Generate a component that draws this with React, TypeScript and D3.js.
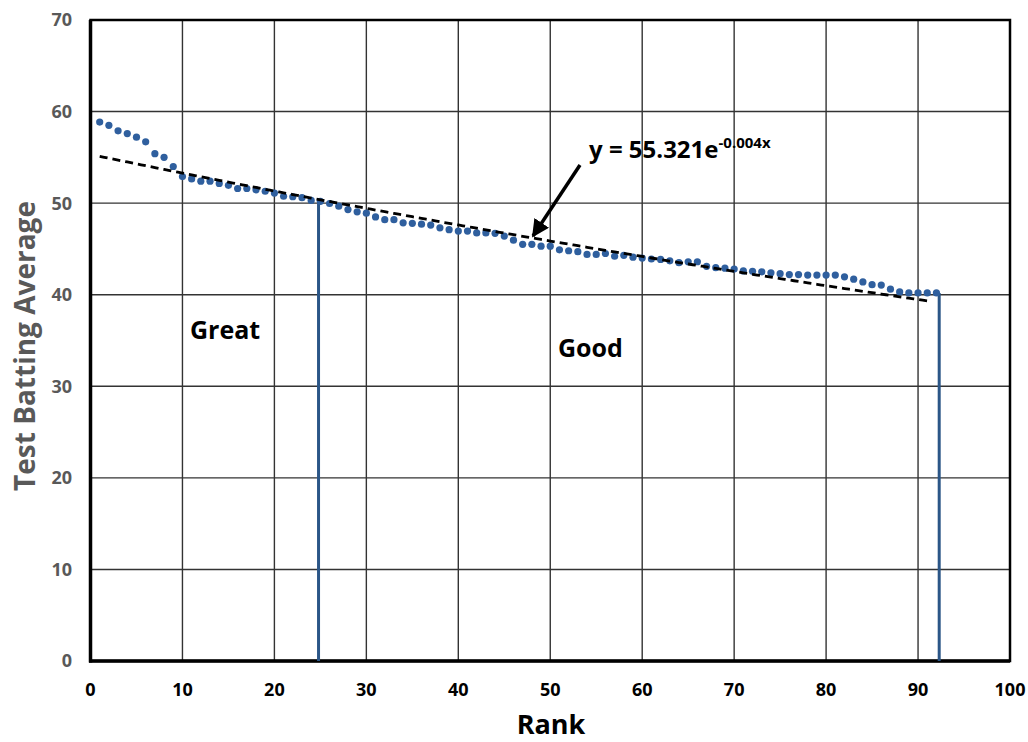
import React from "react";
import * as d3 from "d3";

// batting averages by rank (1..92)
const ranks = d3.range(1, 93);
const averages = [
  58.85, 58.5, 57.9, 57.6, 57.2, 56.7, 55.4, 55.0, 54.0, 52.9,
  52.65, 52.4, 52.4, 52.15, 51.95, 51.6, 51.6, 51.45, 51.3, 51.1,
  50.75, 50.7, 50.6, 50.3, 50.2, 49.96, 49.67, 49.3, 49.05, 48.9,
  48.5, 48.2, 48.2, 47.85, 47.8, 47.7, 47.6, 47.3, 47.1, 46.95,
  46.95, 46.75, 46.75, 46.7, 46.4, 45.96, 45.5, 45.5, 45.3, 45.3,
  44.9, 44.8, 44.7, 44.4, 44.4, 44.5, 44.2, 44.3, 44.1, 44.0,
  43.9, 43.85, 43.7, 43.5, 43.6, 43.6, 43.1, 42.95, 42.9, 42.8,
  42.6, 42.55, 42.5, 42.4, 42.3, 42.2, 42.2, 42.15, 42.15, 42.15,
  42.15, 41.95, 41.7, 41.4, 41.1, 41.05, 40.6, 40.3, 40.2, 40.2,
  40.2, 40.2,
];

// trendline y = a * e^(b x)
const trendA = 55.321;
const trendB = -0.00375;
const trendRange = [1, 91.5];

// category cut lines: [rank, height]
const cutLines = [
  [24.8, 50.3],
  [92.3, 40.2],
];

const xTicks = d3.range(0, 101, 10);
const yTicks = d3.range(0, 71, 10);

const font = "'Open Sans', Lato, sans-serif";

export default function App() {
  const width = 1028;
  const height = 742;
  const margin = { left: 90.5, right: 18, top: 20, bottom: 81 };

  const x = d3.scaleLinear().domain([0, 100]).range([margin.left, width - margin.right]);
  const y = d3.scaleLinear().domain([0, 70]).range([height - margin.bottom, margin.top]);

  const trendPts = d3.range(trendRange[0], trendRange[1] + 0.01, 0.5).map((r) => [r, trendA * Math.exp(trendB * r)]);
  const trendLine = d3
    .line<number[]>()
    .x((d) => x(d[0]))
    .y((d) => y(d[1]));

  return (
    <svg
      width={width}
      height={height}
      style={{ position: "absolute", left: 0, top: 0, background: "#fff" }}
      fontFamily={font}
    >
      {/* grid */}
      {xTicks.slice(1, -1).map((t) => (
        <line key={"gx" + t} x1={x(t)} x2={x(t)} y1={y(0)} y2={y(70)} stroke="#333" strokeWidth={1.4} />
      ))}
      {yTicks.slice(1, -1).map((t) => (
        <line key={"gy" + t} x1={x(0)} x2={x(100)} y1={y(t)} y2={y(t)} stroke="#333" strokeWidth={1.4} />
      ))}
      {/* frame */}
      <rect x={x(0)} y={y(70)} width={x(100) - x(0)} height={y(0) - y(70)} fill="none" stroke="#000" strokeWidth={2.5} />
      <line x1={x(0)} x2={x(0)} y1={y(70)} y2={y(0) + 1.5} stroke="#000" strokeWidth={3.5} />
      <line x1={x(0) - 1.5} x2={x(100)} y1={y(0)} y2={y(0)} stroke="#000" strokeWidth={3.5} />

      {/* cut lines */}
      {cutLines.map(([r, v]) => (
        <line key={"c" + r} x1={x(r)} x2={x(r)} y1={y(0)} y2={y(v)} stroke="#2b5687" strokeWidth={3} />
      ))}

      {/* points */}
      {ranks.map((r, i) => (
        <circle key={"p" + r} cx={x(r)} cy={y(averages[i])} r={3.6} fill="#2f5f9e" />
      ))}

      {/* trendline */}
      <path d={trendLine(trendPts) || ""} fill="none" stroke="#000" strokeWidth={2.8} strokeDasharray="8,5" />

      {/* equation + arrow */}
      <defs>
        <marker id="ah" viewBox="0 0 10 10" refX="9" refY="5" markerWidth="5" markerHeight="5" orient="auto">
          <path d="M0,0 L10,5 L0,10 z" fill="#000" />
        </marker>
      </defs>
      <line x1={580} y1={165} x2={533} y2={236} stroke="#000" strokeWidth={3.5} markerEnd="url(#ah)" />
      <text x={589} y={158} fontSize={24} fontWeight="bold" fill="#000">
        y = 55.321e<tspan fontSize={15} dy={-10}>-0.004x</tspan>
      </text>

      {/* labels */}
      <text x={190} y={339} fontSize={25} fontWeight="bold" fill="#000">Great</text>
      <text x={558} y={357} fontSize={25} fontWeight="bold" fill="#000">Good</text>

      {/* tick labels */}
      {yTicks.map((t) => (
        <text key={"yl" + t} x={72} y={y(t)} dy="0.36em" textAnchor="end" fontSize={18} fontWeight="bold" fill="#595959">
          {t}
        </text>
      ))}
      {xTicks.map((t) => (
        <text key={"xl" + t} x={x(t)} y={690} dy="0.36em" textAnchor="middle" fontSize={18} fontWeight="bold" fill="#000">
          {t}
        </text>
      ))}

      {/* axis titles */}
      <text x={551} y={734} textAnchor="middle" fontSize={27} fontWeight="bold" fill="#000">Rank</text>
      <text
        transform={`translate(35,346) rotate(-90)`}
        textAnchor="middle"
        fontSize={28}
        fontWeight="bold"
        fill="#595959"
      >
        Test Batting Average
      </text>
    </svg>
  );
}
